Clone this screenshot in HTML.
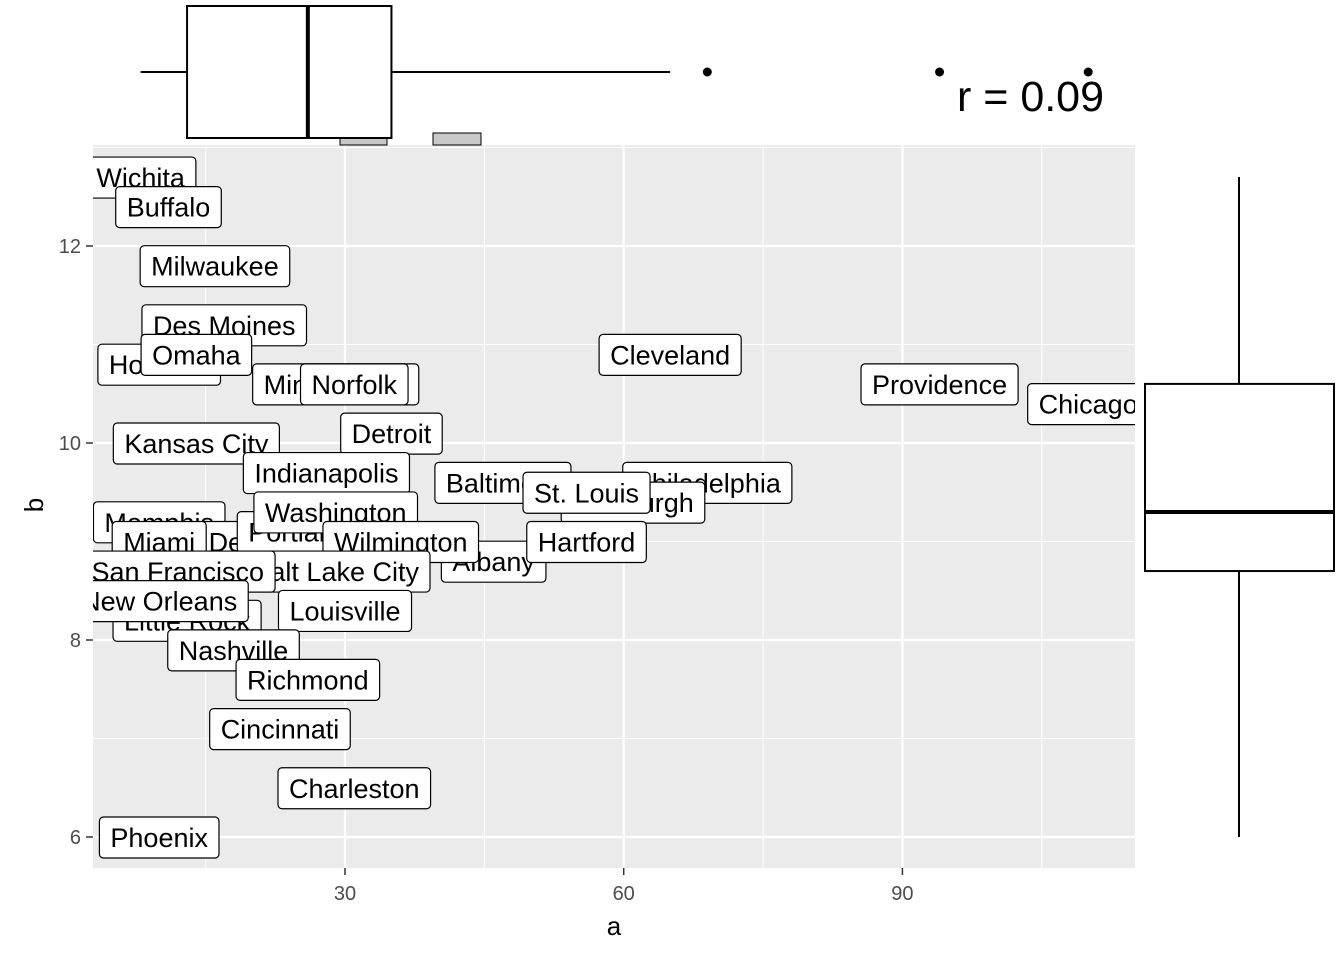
<!DOCTYPE html>
<html><head><meta charset="utf-8"><style>
body{margin:0;background:#fff;}
svg{display:block;font-family:"Liberation Sans",sans-serif;}
</style></head><body>
<svg id="chart" width="1344" height="960" xmlns="http://www.w3.org/2000/svg">
<defs><clipPath id="pclip"><rect x="93" y="145" width="1042" height="723"/></clipPath></defs>
<rect x="93" y="145" width="1042" height="723" fill="#ebebeb"/>
<g id="grid"></g>
<g id="labels" clip-path="url(#pclip)"></g>
<g id="axes"></g>
<g id="topbox"></g>
<g id="rightbox"></g>
<text x="957" y="111" font-size="43" fill="#000">r = 0.09</text>
<text x="614" y="935" font-size="26" text-anchor="middle">a</text>
<text transform="translate(43,505) rotate(-90)" font-size="26" text-anchor="middle">b</text>
</svg>
<script>
const cities=["Wichita","Buffalo","Milwaukee","Des Moines","Houston","Omaha","Minneapolis","Norfolk","Cleveland","Providence","Chicago","Kansas City","Detroit","Indianapolis","Baltimore","Philadelphia","Pittsburgh","St. Louis","Memphis","Denver","Portland","Washington","Miami","Albany","Wilmington","Hartford","Salt Lake City","San Francisco","Little Rock","New Orleans","Louisville","Nashville","Richmond","Cincinnati","Charleston","Phoenix"];
const aVals=[8,11,16,17,10,14,29,31,65,94,110,14,35,28,47,69,61,56,10,20,25,29,10,46,36,56,29,12,13,10,30,18,26,23,31,10];
const bVals=[12.7,12.4,11.8,11.2,10.8,10.9,10.6,10.6,10.9,10.6,10.4,10.0,10.1,9.7,9.6,9.6,9.4,9.5,9.2,9.0,9.1,9.3,9.0,8.8,9.0,9.0,8.7,8.7,8.2,8.4,8.3,7.9,7.6,7.1,6.5,6.0];
const xTicks=[30,60,90];
const yTicks=[6,8,10,12];
const aBox=[8,13,26,35,65]; // whisker low, q1, median, q3, whisker high
const aOut=[69,94,110];
const bBox=[6.0,8.7,9.3,10.6,12.7];
const NS="http://www.w3.org/2000/svg";
const X=v=>66.3+v*9.29;
const Y=v=>1428-v*98.5;
function el(t,at,p){const e=document.createElementNS(NS,t);for(const k in at)e.setAttribute(k,at[k]);p.appendChild(e);return e;}
const grid=document.getElementById('grid');
[15,45,75,105].forEach(v=>{const l=el('line',{x1:X(v),x2:X(v),y1:145,y2:868,stroke:'#fff','stroke-width':1},grid);

});
[7,9,11,13].forEach(v=>{const l=el('line',{x1:93,x2:1135,y1:Y(v),y2:Y(v),stroke:'#fff','stroke-width':1},grid);

});
const axes=document.getElementById('axes');
xTicks.forEach(v=>{const l=el('line',{x1:X(v),x2:X(v),y1:145,y2:868,stroke:'#fff','stroke-width':2.2},grid);


const t=el('line',{x1:X(v),x2:X(v),y1:868,y2:875,stroke:'#333','stroke-width':1.5},axes);


const tx=el('text',{x:X(v),y:900,'font-size':20,fill:'#4d4d4d','text-anchor':'middle'},axes);tx.textContent=v;

});
yTicks.forEach(v=>{const l=el('line',{x1:93,x2:1135,y1:Y(v),y2:Y(v),stroke:'#fff','stroke-width':2.2},grid);


const t=el('line',{x1:86,x2:93,y1:Y(v),y2:Y(v),stroke:'#333','stroke-width':1.5},axes);


const tx=el('text',{x:81,y:Y(v)+7,'font-size':20,fill:'#4d4d4d','text-anchor':'end'},axes);tx.textContent=v;

});
const lab=document.getElementById('labels');
cities.forEach((c,i)=>{const g=el('g',{},lab);


const cx=X(aVals[i]),cy=Y(bVals[i]);
const r=el('rect',{y:cy-20,height:41,rx:4,fill:'#fff',stroke:'#000','stroke-width':1.2},g);
const t=el('text',{x:cx,y:cy+10,'font-size':27,'text-anchor':'middle'},g);t.textContent=c;
const w=t.getComputedTextLength()+22;r.setAttribute('x',cx-w/2);r.setAttribute('width',w);});
// top boxplot
const tb=document.getElementById('topbox');
el('rect',{x:340,y:138,width:47,height:7,fill:'#c8c8c8',stroke:'#000','stroke-width':1},tb);
el('rect',{x:433,y:133,width:48,height:12,fill:'#c8c8c8',stroke:'#000','stroke-width':1},tb);
el('line',{x1:X(aBox[0]),x2:X(aBox[1]),y1:72,y2:72,stroke:'#000','stroke-width':2},tb);
el('line',{x1:X(aBox[3]),x2:X(aBox[4]),y1:72,y2:72,stroke:'#000','stroke-width':2},tb);
el('rect',{x:X(aBox[1]),y:6,width:X(aBox[3])-X(aBox[1]),height:132,fill:'#fff',stroke:'#000','stroke-width':2},tb);
el('line',{x1:X(aBox[2]),x2:X(aBox[2]),y1:6,y2:138,stroke:'#000','stroke-width':4},tb);
aOut.forEach(v=>{const p=el('circle',{cx:X(v),cy:72,r:4.5,fill:'#000'},tb);

});
// right boxplot
const rb=document.getElementById('rightbox');
el('line',{x1:1239,x2:1239,y1:Y(bBox[0]),y2:Y(bBox[1]),stroke:'#000','stroke-width':2},rb);
el('line',{x1:1239,x2:1239,y1:Y(bBox[3]),y2:Y(bBox[4]),stroke:'#000','stroke-width':2},rb);
el('rect',{x:1145,y:Y(bBox[3]),width:189,height:Y(bBox[1])-Y(bBox[3]),fill:'#fff',stroke:'#000','stroke-width':2},rb);
el('line',{x1:1145,x2:1334,y1:Y(bBox[2]),y2:Y(bBox[2]),stroke:'#000','stroke-width':4},rb);
</script>
</body></html>
